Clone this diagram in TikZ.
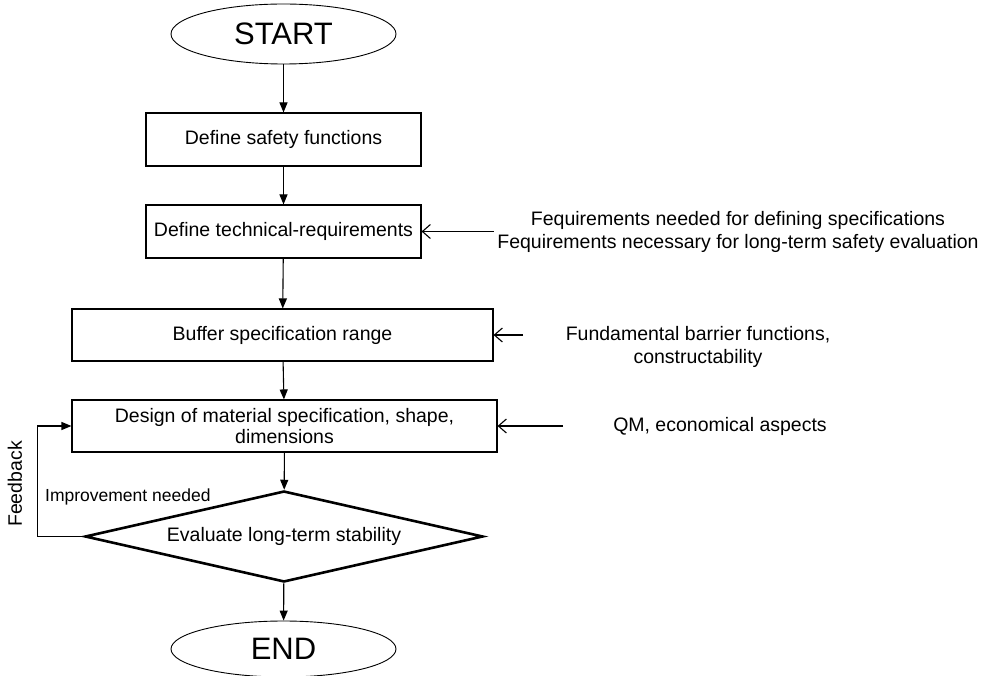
\documentclass[tikz,border=0pt]{standalone}
\usepackage{fontspec}
\setmainfont{Liberation Sans}
\usetikzlibrary{arrows.meta, shapes.geometric}

\begin{document}
\begin{tikzpicture}[x=1pt, y=-1pt,
  txt/.style={font=\fontsize{19.5}{21}\selectfont},
  term/.style={draw, ellipse, line width=0.9pt, minimum width=225pt,
       minimum height=60pt, inner sep=0pt, font=\fontsize{31}{36}\selectfont},
  stepbox/.style={draw, rectangle, line width=1.1pt, inner sep=0pt, txt, align=center},
  decide/.style={draw, diamond, aspect=4.4, line width=2.6pt, minimum width=398pt,
       minimum height=91pt, inner sep=0pt, txt},
  flow/.style={-{Triangle[length=10pt,width=8pt]}, line width=1.1pt},
  feed/.style={-{Straight Barb[length=8pt,width=14pt]}, line width=1.1pt},
  note/.style={font=\fontsize{19.5}{23}\selectfont, align=center}]
  \useasboundingbox (0,0) rectangle (982,676);

  % Main chain
  \node[term] (start) at (283.5,34) {START};
  \node[stepbox, minimum width=275pt, minimum height=53pt] (safety)
       at (283.5,139.5) {Define safety functions};
  \node[stepbox, minimum width=275pt, minimum height=53pt] (techreq)
       at (283.5,231.5) {Define technical-requirements};
  \node[stepbox, minimum width=421pt, minimum height=52pt] (range)
       at (282.5,335) {Buffer specification range};
  \node[stepbox, minimum width=425pt, minimum height=52pt] (design)
       at (284.5,426) {Design of material specification, shape,\\dimensions};
  \node[decide] (stab) at (284,536.5) {Evaluate long-term stability};
  \node[term, minimum height=56pt] (finish) at (283.5,649) {END};

  \draw[flow] (start) -- (safety);
  \draw[flow] (safety) -- (techreq);
  \draw[flow] (techreq) -- (range);
  \draw[flow] (range) -- (design);
  \draw[flow] (design) -- (stab);
  \draw[flow] (stab) -- (finish);

  % Feedback loop
  \draw[flow] (stab.west) -- ++(-46,0) |- (design.west);
  \node[txt, rotate=90] (fbk) at (15,484) {Feedback};
  \node[font=\fontsize{17.5}{20}\selectfont, anchor=west, inner sep=0pt] (impr)
       at (45,497) {Improvement needed};

  % Inputs from the right
  \node[note] (need) at (738,231.5)
       {Fequirements needed for defining specifications\\
        Fequirements necessary for long-term safety evaluation};
  \node[note] (barrier) at (698,346.5) {Fundamental barrier functions,\\constructability};
  \node[note] (qm) at (720,426.5) {QM, economical aspects};
  \coordinate (in2) at (523,335);
  \coordinate (in3) at (563,426);
  \draw[feed] (need.west) -- (techreq.east);
  \draw[feed] (in2) -- (range.east);
  \draw[feed] (in3) -- (design.east);
\end{tikzpicture}
\end{document}
